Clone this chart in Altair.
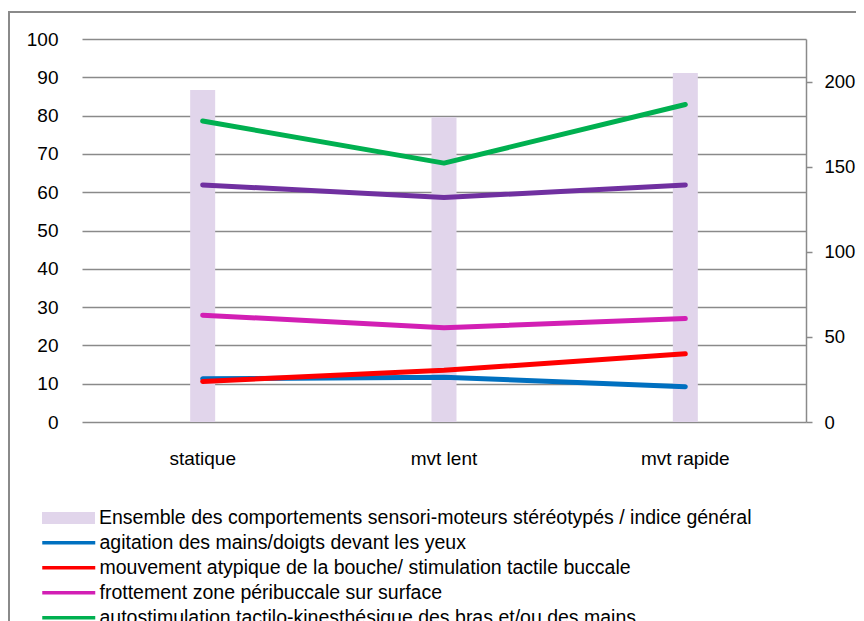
import altair as alt
import pandas as pd

categories = ["statique", "mvt lent", "mvt rapide"]
indice_general = [195, 179, 205]          # right axis (bars)
agitation = [11.3, 11.7, 9.2]             # left axis (lines)
bouche = [10.6, 13.5, 17.8]
frottement = [27.9, 24.6, 27.0]
autostim = [78.6, 67.6, 82.9]
balancement = [61.9, 58.6, 61.9]

bar_name = "Ensemble des comportements sensori-moteurs stéréotypés / indice général"
line_names = [
    "agitation des mains/doigts devant les yeux",
    "mouvement atypique de la bouche/ stimulation tactile buccale",
    "frottement zone péribuccale sur surface",
    "autostimulation tactilo-kinesthésique des bras et/ou des mains",
    "balancement du tronc",
]
line_values = [agitation, bouche, frottement, autostim, balancement]
line_colors = ["#0070C0", "#FF0000", "#D21FB4", "#00B050", "#7030A0"]
bar_color = "#E1D5EB"
left_ticks = [0, 10, 20, 30, 40, 50, 60, 70, 80, 90, 100]
right_ticks = [0, 50, 100, 150, 200]

FONT = "Liberation Sans"
GRID = "#8a8a8a"

bar_df = pd.DataFrame({"cat": categories, "value": indice_general, "serie": bar_name})
rows = []
for name, vals in zip(line_names, line_values):
    for c, v in zip(categories, vals):
        rows.append({"cat": c, "value": v, "serie": name})
line_df = pd.DataFrame(rows)

x_enc = alt.X(
    "cat:N",
    sort=categories,
    scale=alt.Scale(paddingInner=0, paddingOuter=0),
    axis=alt.Axis(
        title=None, labelAngle=0, ticks=False, domain=False, grid=False,
        labelFont=FONT, labelFontSize=19, labelColor="#000000", labelPadding=27,
    ),
)

border = alt.Chart(pd.DataFrame({"k": [0]})).mark_rect(
    filled=False, stroke=GRID, strokeWidth=2
).encode(
    x=alt.value(-73), x2=alt.value(1200), y=alt.value(-27), y2=alt.value(1200)
)

bars = alt.Chart(bar_df).mark_bar(size=25).encode(
    x=x_enc,
    y=alt.Y(
        "value:Q",
        scale=alt.Scale(domain=[0, 225], nice=False),
        axis=alt.Axis(
            orient="right", title=None, values=right_ticks, grid=False,
            domain=True, domainColor=GRID, domainWidth=1.5,
            ticks=True, tickColor=GRID, tickWidth=1.5, tickSize=6,
            labelFont=FONT, labelFontSize=18.5, labelColor="#000000", labelPadding=12,
        ),
    ),
    fill=alt.Fill(
        "serie:N",
        scale=alt.Scale(domain=[bar_name], range=[bar_color]),
        legend=alt.Legend(
            title=None, orient="none", legendX=-40, legendY=466.75, padding=0,
            symbolType="M-1,-0.23H1V0.23H-1Z", symbolSize=2809, symbolStrokeWidth=0,
            clipHeight=24.5, rowPadding=0, labelOffset=4, labelFont=FONT, labelFontSize=19.5,
            labelColor="#000000", labelLimit=900,
        ),
    ),
)

lines = alt.Chart(line_df).mark_line(strokeWidth=5, strokeCap="round", strokeJoin="round").encode(
    x=x_enc,
    y=alt.Y(
        "value:Q",
        scale=alt.Scale(domain=[0, 100], nice=False),
        axis=alt.Axis(
            orient="left", title=None, values=left_ticks, grid=True,
            gridColor=GRID, gridWidth=1.5, domain=False, ticks=False,
            labelFont=FONT, labelFontSize=19, labelColor="#000000", labelPadding=24,
        ),
    ),
    color=alt.Color(
        "serie:N",
        sort=line_names,
        scale=alt.Scale(domain=line_names, range=line_colors),
        legend=alt.Legend(
            title=None, orient="none", legendX=-41.75, legendY=491.5, padding=0,
            symbolType="stroke", symbolSize=2809, symbolStrokeWidth=3.5,
            clipHeight=24.5, rowPadding=0, labelOffset=2.25, labelFont=FONT, labelFontSize=19.5,
            labelColor="#000000", labelLimit=900,
        ),
    ),
    order=alt.Order("serie:N"),
)

chart = (
    alt.layer(border, bars, lines)
    .resolve_scale(y="independent")
    .properties(
        width=724,
        height=383,
        autosize=alt.AutoSizeParams(type="none"),
        padding={"left": 74, "top": 31, "right": 50, "bottom": 199},
        background="#ffffff",
    )
    .configure_view(stroke=None)
)

chart.save("out.html", embed_options={"renderer": "svg", "actions": False})
